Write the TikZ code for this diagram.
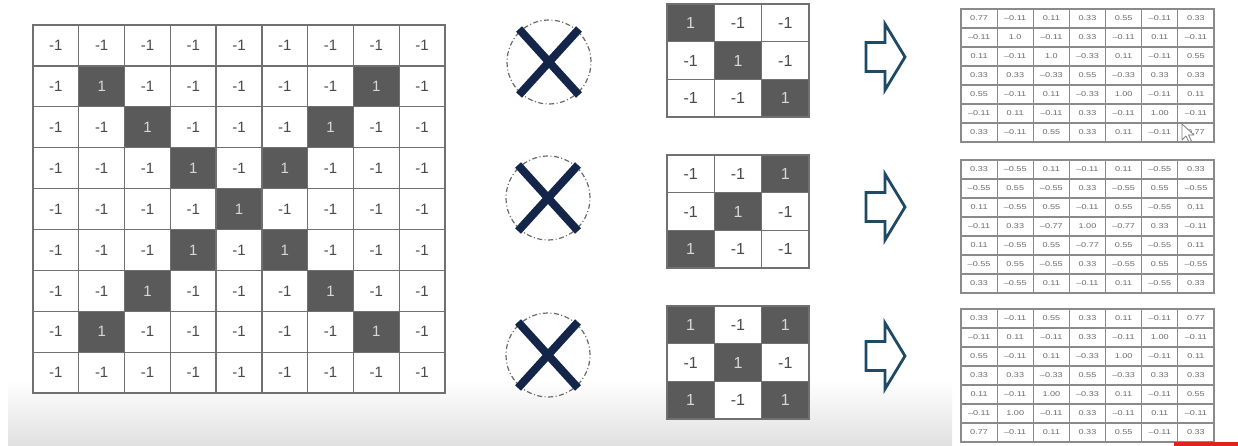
\documentclass[tikz,border=0pt]{standalone}
\usepackage{fontspec}
\setmainfont{Liberation Sans}
\newfontfamily\resfont[FakeStretch=1.3]{Liberation Sans}
\usetikzlibrary{calc}
\definecolor{gridline}{HTML}{707070}
\definecolor{darkcell}{HTML}{5A5A5A}
\definecolor{celltext}{HTML}{4A4A4A}
\definecolor{onetext}{HTML}{D8D8D8}
\definecolor{navyx}{HTML}{14254A}
\definecolor{arrowcol}{HTML}{1F4A66}
\definecolor{restext}{HTML}{6A6A6A}
\definecolor{resline}{HTML}{8A8A8A}
\definecolor{redbar}{HTML}{E2231A}
\definecolor{ringcol}{HTML}{6A6A6A}
\tikzset{
 cell/.style={draw=gridline, line width=1.4pt, inner sep=0pt, anchor=center},
 cv-1/.style={fill=white, text=celltext},
 cv1/.style={fill=darkcell, text=onetext},
 val/.code={\ifnum#1>0 \pgfkeysalso{cv1}\else\pgfkeysalso{cv-1}\fi},
 bigcell/.style={cell, minimum width=45.78pt, minimum height=40.9pt, font=\fontsize{15}{18}\selectfont},
 smallcell/.style={cell, minimum width=47.33pt, minimum height=37.67pt, font=\fontsize{16}{19}\selectfont},
 rescell/.style={draw=resline, line width=1.1pt, fill=white, text=restext, inner sep=0pt, minimum width=36.14pt, minimum height=19pt, font=\resfont\fontsize{7}{8}\selectfont},
 xring/.style={circle, draw=ringcol, dash pattern=on 5pt off 2.5pt on 1pt off 2.5pt, line width=1.2pt, minimum size=84pt, inner sep=0pt},
 xmark/.style={draw=navyx, line width=8pt},
 blockarrow/.style={draw=arrowcol, line width=2.8pt, line join=miter, fill=white},
 cursorshape/.style={draw=gray, fill=white, line width=0.8pt, line join=round},
}
\newcommand\sqmat[3]{%
 \foreach \row [count=\r] in {#3} {%
  \foreach \v [count=\c] in \row {%
   \node[smallcell, val=\v] (#1-\r-\c) at ({667+47.33*(\c-0.5)},{#2+37.67*(\r-0.5)}) {\v};
  }%
 }%
}
\newcommand\resmat[3]{%
 \foreach \row [count=\r] in {#3} {%
  \foreach \v [count=\c] in \row {%
   \node[rescell] (#1-\r-\c) at ({961+36.14*(\c-0.5)},{#2+19*(\r-0.5)}) {\v};
  }%
 }%
}
\newcommand\xcross[3]{%
 \node[xring] (#1) at (#2,#3) {};
 \draw[xmark] ([shift={(-30,-33)}]#1.center) -- ([shift={(30,33)}]#1.center);
 \draw[xmark] ([shift={(-30,33)}]#1.center) -- ([shift={(30,-33)}]#1.center);
}
\newcommand\blockarr[3]{%
 \coordinate (#1) at (#2,#3);
 \draw[blockarrow] ([shift={(0,-14.5)}]#1) -- ++(19,0) -- ++(0,-18.5) -- ++(20,33) -- ++(-20,33) -- ++(0,-18.5) -- ++(-19,0) -- cycle;
}
\begin{document}
\begin{tikzpicture}[x=1pt,y=-1pt]
\useasboundingbox (0,0) rectangle (1238,446);
\fill[white] (0,0) rectangle (1238,446);
\shade[top color=white, bottom color=black!12] (8,380) rectangle (952,446);

% big 9x9 grid
\foreach \row [count=\r] in {
 {-1,-1,-1,-1,-1,-1,-1,-1,-1},
 {-1,1,-1,-1,-1,-1,-1,1,-1},
 {-1,-1,1,-1,-1,-1,1,-1,-1},
 {-1,-1,-1,1,-1,1,-1,-1,-1},
 {-1,-1,-1,-1,1,-1,-1,-1,-1},
 {-1,-1,-1,1,-1,1,-1,-1,-1},
 {-1,-1,1,-1,-1,-1,1,-1,-1},
 {-1,1,-1,-1,-1,-1,-1,1,-1},
 {-1,-1,-1,-1,-1,-1,-1,-1,-1}} {
 \foreach \v [count=\c] in \row {
  \node[bigcell, val=\v] (g-\r-\c) at ({33+45.78*(\c-0.5)},{25+40.9*(\r-0.5)}) {\v};
 }
}

% convolution symbols
\xcross{x1}{549}{62}
\xcross{x2}{548}{198}
\xcross{x3}{548}{355}

% filters
\sqmat{fa}{4}{{1,-1,-1},{-1,1,-1},{-1,-1,1}}
\sqmat{fb}{155}{{-1,-1,1},{-1,1,-1},{1,-1,-1}}
\sqmat{fc}{306}{{1,-1,1},{-1,1,-1},{1,-1,1}}

% arrows
\blockarr{ar1}{866}{57}
\blockarr{ar2}{866}{207}
\blockarr{ar3}{866}{356}

% result maps
\resmat{ra}{9}{
 {0.77,–0.11,0.11,0.33,0.55,–0.11,0.33},
 {–0.11,1.0,–0.11,0.33,–0.11,0.11,–0.11},
 {0.11,–0.11,1.0,–0.33,0.11,–0.11,0.55},
 {0.33,0.33,–0.33,0.55,–0.33,0.33,0.33},
 {0.55,–0.11,0.11,–0.33,1.00,–0.11,0.11},
 {–0.11,0.11,–0.11,0.33,–0.11,1.00,–0.11},
 {0.33,–0.11,0.55,0.33,0.11,–0.11,0.77}}
\resmat{rb}{160}{
 {0.33,–0.55,0.11,–0.11,0.11,–0.55,0.33},
 {–0.55,0.55,–0.55,0.33,–0.55,0.55,–0.55},
 {0.11,–0.55,0.55,–0.11,0.55,–0.55,0.11},
 {–0.11,0.33,–0.77,1.00,–0.77,0.33,–0.11},
 {0.11,–0.55,0.55,–0.77,0.55,–0.55,0.11},
 {–0.55,0.55,–0.55,0.33,–0.55,0.55,–0.55},
 {0.33,–0.55,0.11,–0.11,0.11,–0.55,0.33}}
\resmat{rc}{309}{
 {0.33,–0.11,0.55,0.33,0.11,–0.11,0.77},
 {–0.11,0.11,–0.11,0.33,–0.11,1.00,–0.11},
 {0.55,–0.11,0.11,–0.33,1.00,–0.11,0.11},
 {0.33,0.33,–0.33,0.55,–0.33,0.33,0.33},
 {0.11,–0.11,1.00,–0.33,0.11,–0.11,0.55},
 {–0.11,1.00,–0.11,0.33,–0.11,0.11,–0.11},
 {0.77,–0.11,0.11,0.33,0.55,–0.11,0.33}}

% mouse cursor
\coordinate (cur) at (1182,124);
\draw[cursorshape] (cur) -- ++(0,16) -- ++(4,-4) -- ++(3,6) -- ++(2.5,-1) -- ++(-3,-6) -- ++(5.5,0) -- cycle;

% red bar
\fill[redbar] (1174,442) rectangle (1238,446);
\end{tikzpicture}
\end{document}
